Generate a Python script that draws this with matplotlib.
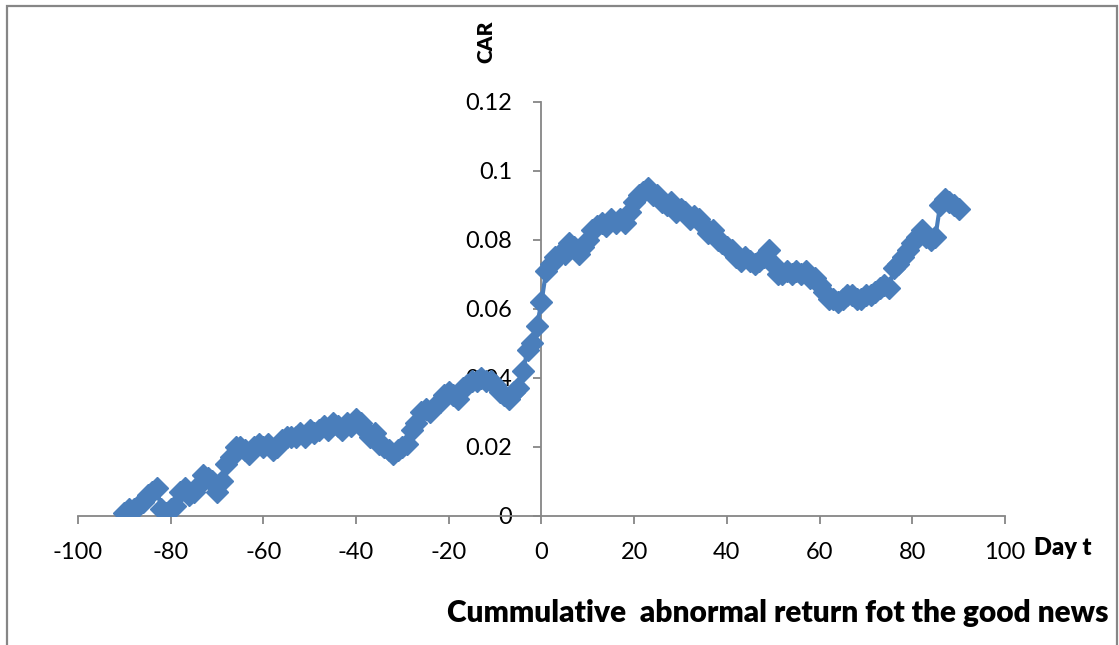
import numpy as np
import matplotlib
matplotlib.use('Agg')
import matplotlib.pyplot as plt
from matplotlib.patches import Rectangle

# event window, days relative to the announcement
days = np.arange(-90, 91)

# cumulative abnormal return, one row per ten days
car = np.array([
    0.001, 0.002, 0.002, 0.003, 0.004, 0.006, 0.007, 0.008, 0.002, 0.001,   # -90..-81
    0.002, 0.003, 0.007, 0.008, 0.006, 0.007, 0.009, 0.012, 0.011, 0.010,   # -80..-71
    0.007, 0.010, 0.015, 0.017, 0.020, 0.020, 0.019, 0.018, 0.020, 0.021,   # -70..-61
    0.020, 0.021, 0.019, 0.020, 0.022, 0.023, 0.023, 0.023, 0.024, 0.023,   # -60..-51
    0.025, 0.024, 0.025, 0.026, 0.025, 0.027, 0.026, 0.025, 0.027, 0.026,   # -50..-41
    0.028, 0.027, 0.025, 0.023, 0.024, 0.021, 0.020, 0.019, 0.018, 0.019,   # -40..-31
    0.020, 0.021, 0.025, 0.027, 0.030, 0.031, 0.030, 0.032, 0.033, 0.035,   # -30..-21
    0.036, 0.035, 0.034, 0.037, 0.038, 0.039, 0.039, 0.040, 0.039, 0.039,   # -20..-11
    0.038, 0.036, 0.035, 0.034, 0.036, 0.037, 0.042, 0.048, 0.050, 0.055,   # -10..-1
    0.062, 0.071, 0.073, 0.075, 0.076, 0.076, 0.079, 0.078, 0.076, 0.078,   # 0..9
    0.080, 0.083, 0.084, 0.085, 0.084, 0.086, 0.085, 0.086, 0.085, 0.088,   # 10..19
    0.091, 0.093, 0.094, 0.095, 0.093, 0.093, 0.091, 0.090, 0.091, 0.088,   # 20..29
    0.089, 0.088, 0.086, 0.087, 0.086, 0.084, 0.082, 0.083, 0.080, 0.079,   # 30..39
    0.078, 0.077, 0.075, 0.074, 0.075, 0.074, 0.073, 0.074, 0.075, 0.077,   # 40..49
    0.073, 0.070, 0.070, 0.071, 0.070, 0.071, 0.070, 0.071, 0.069, 0.069,   # 50..59
    0.067, 0.065, 0.063, 0.063, 0.062, 0.063, 0.064, 0.064, 0.063, 0.063,   # 60..69
    0.064, 0.064, 0.065, 0.066, 0.067, 0.066, 0.072, 0.073, 0.075, 0.077,   # 70..79
    0.079, 0.081, 0.083, 0.081, 0.080, 0.081, 0.090, 0.092, 0.091, 0.090,   # 80..89
    0.089,                                                                  # 90
])

xticks = np.arange(-100, 101, 20)
yticks = [0, 0.02, 0.04, 0.06, 0.08, 0.1, 0.12]
ytick_labels = ['0', '0.02', '0.04', '0.06', '0.08', '0.1', '0.12']

plt.rcParams['font.family'] = ['Lato', 'DejaVu Sans']
plt.rcParams['axes.unicode_minus'] = False
blue = '#4a7ebb'
grey = '#868686'

fig = plt.figure(figsize=(11.19, 6.45), dpi=100)
ax = fig.add_axes([0.0697, 0.2, 0.8284, 0.6419])

ax.plot(days, car, color=blue, lw=3, marker='D', markersize=11,
        markerfacecolor=blue, markeredgecolor=blue, zorder=3)

ax.set_xlim(-100, 100)
ax.set_ylim(0, 0.12)
ax.set_xticks(xticks)
ax.set_yticks(yticks)
ax.set_yticklabels(ytick_labels)

# axes cross at the origin, like a spreadsheet chart
ax.spines['left'].set_position(('data', 0))
ax.spines['bottom'].set_position(('data', 0))
ax.spines['top'].set_visible(False)
ax.spines['right'].set_visible(False)
for s in ('left', 'bottom'):
    ax.spines[s].set_color(grey)
    ax.spines[s].set_linewidth(1.3)
ax.tick_params(axis='both', direction='out', length=6, width=1.3, color=grey,
               labelsize=17, labelcolor='black')
ax.tick_params(axis='x', pad=13)
ax.tick_params(axis='y', pad=15)
ax.patch.set_visible(False)

fig.text(0.434, 0.935, 'CAR', rotation=90, fontsize=15, fontweight='heavy',
         ha='center', va='center')
fig.text(0.924, 0.15, 'Day t', fontsize=17, fontweight='heavy',
         ha='left', va='center')
fig.text(0.991, 0.05, 'Cummulative  abnormal return fot the good news',
         fontsize=21.5, fontweight='heavy', ha='right', va='center')

# chart frame
fig.patches.append(Rectangle((7 / 1119, -0.05), 1110 / 1119, 1.05 - 6 / 645,
                             transform=fig.transFigure, fill=False,
                             edgecolor=grey, lw=1.6))

fig.savefig('out.png', dpi=100)
